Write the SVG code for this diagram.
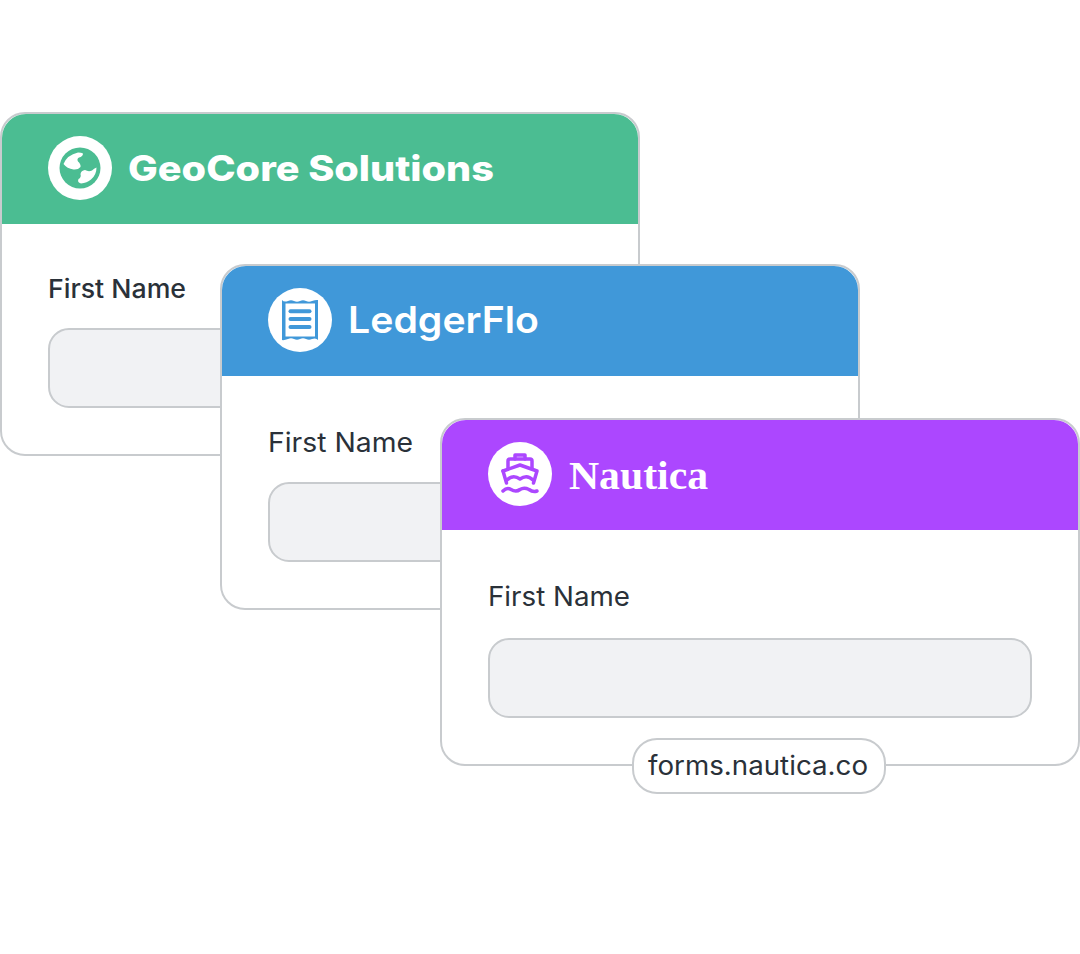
<svg xmlns="http://www.w3.org/2000/svg" width="1080" height="954" viewBox="0 0 1080 954">
<style>
.card{fill:#fff;stroke:#c8cbce;stroke-width:2}
.input{fill:#f1f2f4;stroke:#c8cbce;stroke-width:2}
.label{font-family:"Inter","Liberation Sans",sans-serif;fill:#2a3139}
.title{fill:#fff}
</style>
<rect width="1080" height="954" fill="#fff"/>
<g id="card-geocore">
<rect class="card" x="1" y="113" width="638" height="342" rx="24"/>
<path d="M2 224V138a24 24 0 0 1 24-24H614a24 24 0 0 1 24 24V224Z" fill="#4bbd92"/>
<circle cx="80" cy="168" r="32" fill="#fff"/>
<circle cx="80" cy="168" r="20.500" fill="#4bbd92"/>
<path d="M63.500 164Q67 155 78 152.500Q81.500 152.500 83 153.500Q83 156.500 79 157.500Q76.500 159 78 161.500Q81 164 80.500 167Q78 170 73.500 169.500Q67 168.500 63.500 164Z" fill="#fff"/>
<path d="M80.500 174Q81 170.500 85 170Q88.500 172 92 170.500Q94 168.500 96.500 167.500Q96.500 175 91 179.500Q87 183 81 183.500Q77 182.500 78.500 179Q81.500 177.500 80.500 174Z" fill="#fff"/>
<text class="title" x="128" y="181" font-family="Inter,'Liberation Sans',sans-serif" font-size="35" font-weight="800" textLength="366" lengthAdjust="spacingAndGlyphs">GeoCore Solutions</text>
<text class="label" x="48" y="298" font-size="26" font-weight="500" textLength="138" lengthAdjust="spacingAndGlyphs">First Name</text>
<rect class="input" x="49" y="329" width="542" height="78" rx="20"/>
</g>
<g id="card-ledgerflo">
<rect class="card" x="221" y="265" width="638" height="344" rx="24"/>
<path d="M222 376V290a24 24 0 0 1 24-24H834a24 24 0 0 1 24 24V376Z" fill="#4098d9"/>
<circle cx="300" cy="320" r="32" fill="#fff"/>
<path d="M282 300Q284 302.500 288 301Q291 299.500 294 301Q297 302.500 300 301Q303 299.500 306 301Q309 302.500 312 301Q316 299.500 318 300V340Q316 337.500 312 339Q309 340.500 306 339Q303 337.500 300 339Q297 340.500 294 339Q291 337.500 288 339Q284 340.500 282 340Z" fill="#4098d9"/>
<rect x="285.500" y="303.500" width="29.500" height="33" fill="#fff"/>
<g fill="#4098d9"><rect x="288.500" y="309.300" width="23" height="4" rx="2"/><rect x="288.500" y="317" width="23" height="4" rx="2"/><rect x="288.500" y="325" width="23" height="4" rx="2"/></g>
<text class="title" x="348" y="333" font-family="Inter,'Liberation Sans',sans-serif" font-size="37" font-weight="600" textLength="191" lengthAdjust="spacingAndGlyphs">LedgerFlo</text>
<text class="label" x="268" y="452" font-size="27" font-weight="400" textLength="145" lengthAdjust="spacingAndGlyphs">First Name</text>
<rect class="input" x="269" y="483" width="542" height="78" rx="20"/>
</g>
<g id="card-nautica">
<rect class="card" x="441" y="419" width="638" height="346" rx="24"/>
<path d="M442 530V444a24 24 0 0 1 24-24H1054a24 24 0 0 1 24 24V530Z" fill="#ac47ff"/>
<circle cx="520" cy="474" r="32" fill="#fff"/>
<g fill="none" stroke="#ac47ff" stroke-width="3.500" stroke-linejoin="round" stroke-linecap="round">
<path d="M515 459V455H525V459"/>
<path d="M508 469V461Q508 459 510 459H530Q532 459 532 461V469"/>
<path d="M503 471L520 465L537 471L533.500 483"/>
<path d="M503 471L506.500 483"/>
<path d="M507 480Q513 474 520 479Q527 474 533 480"/>
<path d="M503 491Q507 487 511 489.500Q516 492.500 520 489.500Q524 487 529 489.500Q533 492.500 537 491"/>
</g>
<text class="title" x="569" y="489" font-family="'Liberation Serif',serif" font-size="41" font-weight="700" textLength="139" lengthAdjust="spacingAndGlyphs">Nautica</text>
<text class="label" x="488" y="606" font-size="26.500" font-weight="400" textLength="142" lengthAdjust="spacingAndGlyphs">First Name</text>
<rect class="input" x="489" y="639" width="542" height="78" rx="20"/>
</g>
<g id="url-pill">
<rect x="633" y="739" width="252" height="54" rx="24" fill="#fff" stroke="#c8cbce" stroke-width="2"/>
<text class="label" x="648" y="775" font-size="26" font-weight="400" textLength="220" lengthAdjust="spacingAndGlyphs">forms.nautica.co</text>
</g>
</svg>
